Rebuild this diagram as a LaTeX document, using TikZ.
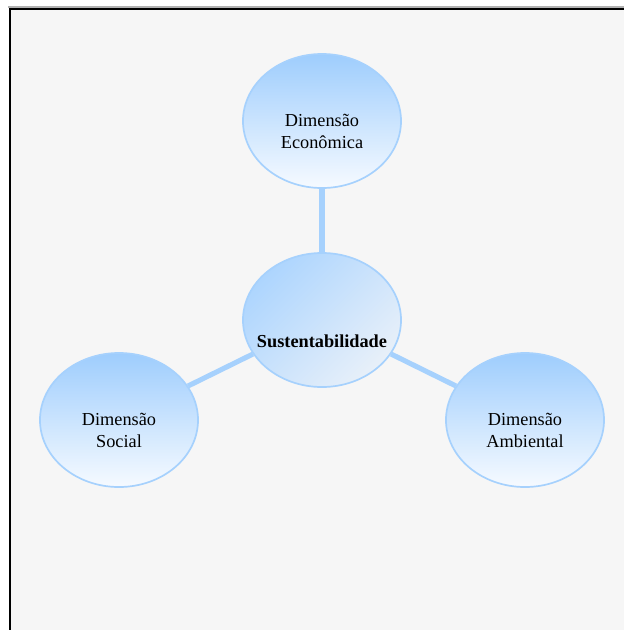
\documentclass[tikz,border=0pt]{standalone}
\usepackage{fontspec}
\setmainfont{Liberation Serif}
\usetikzlibrary{positioning, shapes.geometric, calc}

\definecolor{blueTop}{HTML}{9ECDFD}
\definecolor{blueBot}{HTML}{F6FAFF}
\definecolor{blueLine}{HTML}{A6D1FD}
\definecolor{coreA}{HTML}{ADD5FE}
\definecolor{coreB}{HTML}{E8F0F9}
\definecolor{paper}{HTML}{F6F6F6}

\begin{document}
\begin{tikzpicture}[
		x=0.025cm, y=-0.025cm,
		every node/.style={font=\fontsize{13}{15.6}\selectfont},
		dim/.style={draw=blueLine, line width=1.2pt, ellipse, minimum width=3.95cm, minimum height=3.35cm, top color=blueTop, bottom color=blueBot},
		core/.style={draw=blueLine, line width=1.2pt, ellipse, minimum width=3.95cm, minimum height=3.35cm, top color=coreA, bottom color=coreB, shading angle=45},
		txt/.style={align=center, inner sep=0pt},
		link/.style={draw=blueLine, line width=3.6pt}
		]
		% frame
		\useasboundingbox (0,0) rectangle (624,630);
		\fill[paper] (10,9) rectangle (624,630);
		\draw[gray!60, line width=0.8pt] (8,7) -- (624,7);
		\draw[black, line width=1.5pt] (10,630) -- (10,9) -- (624,9);
		% ellipses
		\node[core] at (322,320) (sus) {};
		\node[dim] at (322,121) (eco) {};
		\node[dim] at (119,420) (soc) {};
		\node[dim] at (525,420) (amb) {};
		% connectors
		\draw[link] (eco) -- (sus);
		\draw[link] (soc) -- (sus);
		\draw[link] (amb) -- (sus);
		% texts
		\node[txt] at ($(sus)+(0,21)$) (susT) {\textbf{Sustentabilidade}};
		\node[txt] at ($(eco)+(0,10)$) (ecoT) {Dimensão\\Econômica};
		\node[txt] at ($(soc)+(0,10)$) (socT) {Dimensão\\Social};
		\node[txt] at ($(amb)+(0,10)$) (ambT) {Dimensão\\Ambiental};
	\end{tikzpicture}
\end{document}
